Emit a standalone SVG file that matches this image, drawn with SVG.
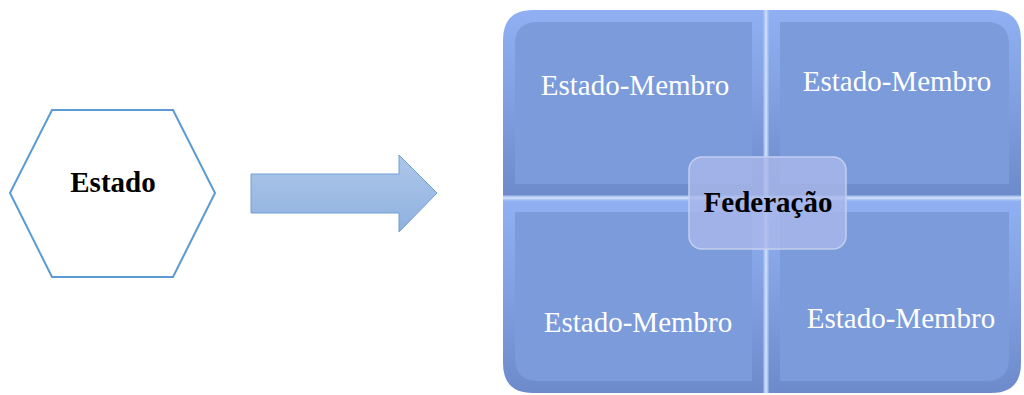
<svg xmlns="http://www.w3.org/2000/svg" width="1024" height="395" viewBox="0 0 1024 395">
<style>
.lbl{font-family:"Liberation Serif","Times New Roman",serif;font-size:29px;text-anchor:middle}
.mem{fill:#ffffff}
.bold{font-weight:bold;fill:#000000}
.outer{fill:url(#bevel)}
.inner{fill:#7b9bdb}
</style>
<defs>
<linearGradient id="bevel" x1="0" y1="0" x2="0" y2="1">
<stop offset="0" stop-color="#90b0f3"/>
<stop offset="0.5" stop-color="#819fe0"/>
<stop offset="1" stop-color="#6d8acb"/>
</linearGradient>
<linearGradient id="arrowFill" x1="0" y1="0" x2="0" y2="1">
<stop offset="0" stop-color="#adc7ea"/>
<stop offset="1" stop-color="#8fb1df"/>
</linearGradient>
</defs>
<rect width="1024" height="395" fill="#ffffff"/>
<g id="estado">
<polygon points="10,193 52,110 173,110 215,193 173,277 52,277" fill="#ffffff" stroke="#5b9bd5" stroke-width="2"/>
<text class="lbl bold" x="113" y="192">Estado</text>
</g>
<g id="connectors">
<polygon points="251,174 399,174 399,155 437,193 399,232 399,213 251,213" fill="url(#arrowFill)" stroke="#6f9fd6" stroke-width="1"/>
</g>
<g id="federacao-matrix">
<g id="q-tl">
<path class="outer" d="M503,196 L503,40 Q503,10 533,10 L764,10 L764,196 Z"/>
<path class="inner" d="M515,184 L515,45 Q515,22 538,22 L752,22 L752,184 Z"/>
<text class="lbl mem" x="635" y="95">Estado-Membro</text>
</g>
<g id="q-tr">
<path class="outer" d="M768,10 L991,10 Q1021,10 1021,40 L1021,196 L768,196 Z"/>
<path class="inner" d="M780,22 L986,22 Q1009,22 1009,45 L1009,184 L780,184 Z"/>
<text class="lbl mem" x="897" y="91">Estado-Membro</text>
</g>
<g id="q-bl">
<path class="outer" d="M503,200 L764,200 L764,393 L533,393 Q503,393 503,363 Z"/>
<path class="inner" d="M515,212 L752,212 L752,381 L538,381 Q515,381 515,358 Z"/>
<text class="lbl mem" x="638" y="332">Estado-Membro</text>
</g>
<g id="q-br">
<path class="outer" d="M768,200 L1021,200 L1021,363 Q1021,393 991,393 L768,393 Z"/>
<path class="inner" d="M780,212 L1009,212 L1009,358 Q1009,381 986,381 L780,381 Z"/>
<text class="lbl mem" x="901" y="328">Estado-Membro</text>
</g>
<line x1="766" y1="10" x2="766" y2="393" stroke="#aec6f4" stroke-width="5"/>
<line x1="503" y1="198" x2="1021" y2="198" stroke="#aec6f4" stroke-width="5"/>
<line x1="766" y1="10" x2="766" y2="393" stroke="#d2e0fa" stroke-width="1.5"/>
<line x1="503" y1="198" x2="1021" y2="198" stroke="#d2e0fa" stroke-width="1.5"/>
</g>
<g id="federacao">
<rect x="689" y="157" width="157" height="92" rx="13" fill="#aab8ea" fill-opacity="0.8" stroke="#c4cff0" stroke-width="1.5"/>
<text class="lbl bold" x="768" y="212">Federação</text>
</g>
</svg>
